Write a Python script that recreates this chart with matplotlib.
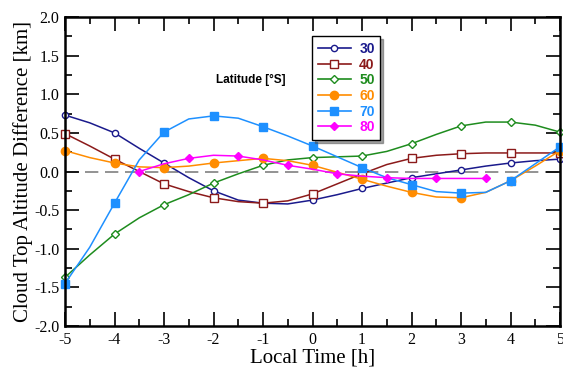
import matplotlib
matplotlib.use("Agg")
import matplotlib.pyplot as plt
from matplotlib.ticker import MultipleLocator
from matplotlib.lines import Line2D
import numpy as np

plt.rcParams["axes.unicode_minus"] = False

# Data: local time [h] at half-hour steps
hours = np.arange(-5, 5.01, 0.5)
lat30 = [0.73, 0.63, 0.50, 0.30, 0.11, -0.08, -0.25, -0.37, -0.41, -0.42, -0.37,
         -0.30, -0.22, -0.15, -0.08, -0.03, 0.02, 0.07, 0.11, 0.14, 0.16]
lat40 = [0.49, 0.33, 0.16, 0.00, -0.16, -0.26, -0.34, -0.39, -0.41, -0.38, -0.29,
         -0.16, -0.03, 0.09, 0.17, 0.21, 0.23, 0.24, 0.24, 0.24, 0.24]
lat50 = [-1.37, -1.08, -0.81, -0.60, -0.43, -0.30, -0.15, -0.03, 0.08, 0.15, 0.18,
         0.19, 0.20, 0.26, 0.36, 0.48, 0.59, 0.64, 0.64, 0.60, 0.51]
lat60 = [0.27, 0.18, 0.11, 0.06, 0.05, 0.07, 0.11, 0.14, 0.17, 0.14, 0.08,
         -0.01, -0.10, -0.19, -0.27, -0.33, -0.34, -0.27, -0.12, 0.07, 0.27]
lat70 = [-1.45, -0.98, -0.41, 0.15, 0.51, 0.68, 0.72, 0.69, 0.58, 0.46, 0.33,
         0.19, 0.05, -0.08, -0.17, -0.26, -0.28, -0.27, -0.12, 0.10, 0.32]
hours80 = np.arange(-3.5, 3.51, 0.5)
lat80 = [0.00, 0.10, 0.17, 0.21, 0.20, 0.15, 0.08, 0.03, -0.03, -0.06, -0.08,
         -0.09, -0.09, -0.09, -0.09]
labels = ["30", "40", "50", "60", "70", "80"]

fig = plt.figure(figsize=(5.63, 3.74), dpi=100)
ax = fig.add_axes([65/563, 1-326/374, 495/563, 309/374])

styles = [
    dict(color="#1a1a8c", marker="o", ms=4.5, mfc="white"),
    dict(color="#8b1a1a", marker="s", ms=5.5, mfc="white"),
    dict(color="#1e8c1e", marker="D", ms=3.8, mfc="white"),
    dict(color="#ff8c00", marker="o", ms=6, mfc="#ff8c00"),
    dict(color="#1e90ff", marker="s", ms=6.2, mfc="#1e90ff"),
    dict(color="#ff00ff", marker="D", ms=4.5, mfc="#ff00ff"),
]
series = [(hours, lat30), (hours, lat40), (hours, lat50), (hours, lat60),
          (hours, lat70), (hours80, lat80)]

ax.axhline(0, color="gray", lw=1.2, dashes=(8, 4), zorder=1)

handles = []
for (x, y), st, lab in zip(series, styles, labels):
    ax.plot(x, y, color=st["color"], lw=1.1, marker=st["marker"], ms=st["ms"],
            mfc=st["mfc"], mec=st["color"], mew=1.0, markevery=2, zorder=3,
            clip_on=False)
    handles.append(Line2D([], [], color=st["color"], lw=1.2, marker=st["marker"],
                          ms=st["ms"], mfc=st["mfc"], mec=st["color"], mew=1.0))

ax.set_xlim(-5, 5)
ax.set_ylim(-2, 2)
ax.xaxis.set_major_locator(MultipleLocator(1))
ax.xaxis.set_minor_locator(MultipleLocator(0.5))
ax.yaxis.set_major_locator(MultipleLocator(0.5))
ax.yaxis.set_minor_locator(MultipleLocator(0.25))
ax.tick_params(which="both", direction="in", top=True, right=True, width=1.2,
               labelsize=11.5, pad=4)
ax.tick_params(which="major", length=10)
ax.tick_params(which="minor", length=5)
ax.yaxis.set_major_formatter(matplotlib.ticker.FormatStrFormatter("%.1f"))
for lbl in ax.get_xticklabels() + ax.get_yticklabels():
    lbl.set_fontfamily("Liberation Serif")
for sp in ax.spines.values():
    sp.set_linewidth(1.8)
    sp.set_zorder(4)

ax.set_xlabel("Local Time [h]", fontfamily="Liberation Serif", fontsize=15, labelpad=1)
ax.set_ylabel("Cloud Top Altitude Difference [km]", fontfamily="Liberation Serif",
              fontsize=15, labelpad=1)

leg = ax.legend(handles, labels, loc="upper left", bbox_to_anchor=(0.499, 0.937),
                frameon=True, fancybox=False, shadow=True, handlelength=2.4,
                handletextpad=0.6, labelspacing=0.12, borderpad=0.4,
                borderaxespad=0, prop=dict(family="Liberation Sans", weight="bold", size=10))
leg.get_frame().set_edgecolor("black")
leg.get_frame().set_linewidth(1.0)
for t, st in zip(leg.get_texts(), styles):
    t.set_color(st["color"])

ax.text(0.376, 0.796, "Latitude [°S]", transform=ax.transAxes, ha="center",
        va="center", fontfamily="Liberation Sans", fontweight="bold", fontsize=8.5)

fig.savefig("out.png", dpi=100)
